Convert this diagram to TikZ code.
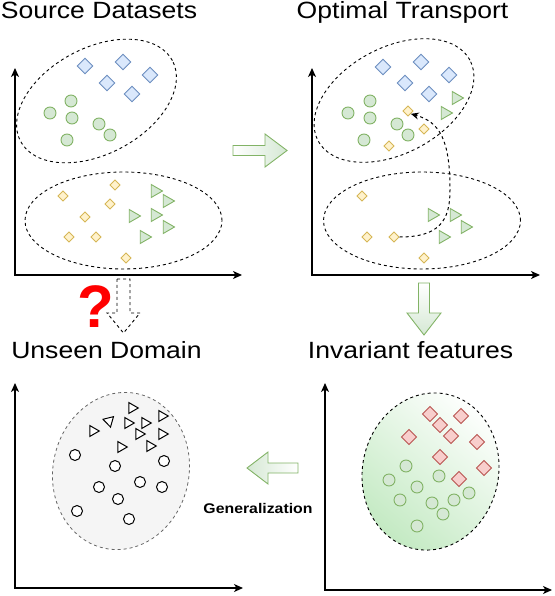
\documentclass[tikz,border=0pt]{standalone}
\usepackage{fontspec}
\setmainfont{Liberation Sans}
\newfontfamily\headfont[FakeStretch=1.13]{Liberation Sans}
\usepackage{xcolor}
\usepackage{tikz}
\usetikzlibrary{shapes.geometric, arrows.meta}

\definecolor{bluefill}{HTML}{DAE8FC}
\definecolor{bluedraw}{HTML}{6C8EBF}
\definecolor{greenfill}{HTML}{D5E8D4}
\definecolor{greendraw}{HTML}{82B366}
\definecolor{yellowfill}{HTML}{FFF2CC}
\definecolor{yellowdraw}{HTML}{D6B656}
\definecolor{redfill}{HTML}{F8CECC}
\definecolor{reddraw}{HTML}{B85450}
\definecolor{grayfill}{HTML}{F5F5F5}
\definecolor{graydraw}{HTML}{666666}

\begin{document}
\begin{tikzpicture}[x=1pt, y=-1pt,
  headline/.style={font=\headfont\fontsize{23.5pt}{28pt}\selectfont, inner sep=0pt, anchor=base},
  axisline/.style={line width=1.3pt, {Stealth[length=9pt,width=8pt,inset=2.5pt]}-{Stealth[length=9pt,width=8pt,inset=2.5pt]}},
  cluster/.style={ellipse, draw=black, dash pattern=on 3pt off 3pt, line width=0.9pt, inner sep=0pt},
  bluedia/.style={diamond, draw=bluedraw, fill=bluefill, line width=0.9pt, minimum width=16pt, minimum height=16pt, inner sep=0pt},
  reddia/.style={diamond, draw=reddraw, fill=redfill, line width=0.9pt, minimum width=15.5pt, minimum height=15.5pt, inner sep=0pt},
  yellowdia/.style={diamond, draw=yellowdraw, fill=yellowfill, line width=0.9pt, minimum width=10.5pt, minimum height=10.5pt, inner sep=0pt},
  greendot/.style={circle, draw=greendraw, fill=greenfill, line width=0.9pt, minimum size=12pt, inner sep=0pt},
  greentri/.style={regular polygon, regular polygon sides=3, shape border rotate=-90, draw=greendraw, fill=greenfill, line width=0.9pt, minimum size=15pt, inner sep=0pt},
  blankdot/.style={circle, draw=black, fill=white, line width=1pt, minimum size=11pt, inner sep=0pt},
  blanktri/.style={regular polygon, regular polygon sides=3, shape border rotate=-90, draw=black, fill=white, line width=1pt, minimum size=12.5pt, inner sep=0pt},
  blockarrow/.style={draw=greendraw, line width=0.9pt, line join=miter}
]
\useasboundingbox (0,0) rectangle (554,596);

\node[headline] (srcTitle) at (99,19) {Source Datasets};
\node[headline] (otTitle) at (402.5,19) {Optimal Transport};
\node[headline] (unTitle) at (106.5,358) {Unseen Domain};
\node[headline] (invTitle) at (410.5,358) {Invariant features};

\draw[axisline] (15,68) -- (15,275) -- (242,275);
\draw[axisline] (312,68) -- (312,275) -- (540,275);
\draw[axisline] (15,383) -- (15,588) -- (243,588);
\draw[axisline] (325,383) -- (325,590) -- (552,590);

\node[cluster, minimum width=172pt, minimum height=106pt, rotate=28] (srcA) at (96.5,101) {};
\node[cluster, minimum width=197pt, minimum height=97pt] (srcB) at (123.5,220.5) {};
\node[cluster, minimum width=172pt, minimum height=106pt, rotate=28] (otA) at (394,100.5) {};
\node[cluster, minimum width=197pt, minimum height=97pt] (otB) at (422,220.5) {};
\node[ellipse, draw=graydraw, fill=grayfill, dash pattern=on 3pt off 3pt, line width=0.8pt, inner sep=0pt, minimum width=136pt, minimum height=158pt, rotate=-12] (unDom) at (121,471) {};
\node[cluster, top color=white, bottom color=greenfill!92!green, shading angle=-40, minimum width=136pt, minimum height=158pt, rotate=-12] (invDom) at (430.5,471.5) {};

\node[bluedia] (sb1) at (85,66) {};
\node[bluedia] (sb2) at (123,62) {};
\node[bluedia] (sb3) at (150,75) {};
\node[bluedia] (sb4) at (107,83) {};
\node[bluedia] (sb5) at (132,94) {};
\node[greendot] (sc1) at (71,101) {};
\node[greendot] (sc2) at (50,113) {};
\node[greendot] (sc3) at (72,118) {};
\node[greendot] (sc4) at (99,124) {};
\node[greendot] (sc5) at (110,135) {};
\node[greendot] (sc6) at (67,140) {};
\node[yellowdia] (sy1) at (115,185) {};
\node[yellowdia] (sy2) at (63,196) {};
\node[yellowdia] (sy3) at (110,204) {};
\node[yellowdia] (sy4) at (85,217) {};
\node[yellowdia] (sy5) at (69,237) {};
\node[yellowdia] (sy6) at (96,237) {};
\node[yellowdia] (sy7) at (126,258) {};
\node[greentri] (st1) at (155,191) {};
\node[greentri] (st2) at (167,201) {};
\node[greentri] (st3) at (133,216) {};
\node[greentri] (st4) at (155,215) {};
\node[greentri] (st5) at (167,227) {};
\node[greentri] (st6) at (144,237) {};

\node[bluedia] (ob1) at (383,67) {};
\node[bluedia] (ob2) at (421,62) {};
\node[bluedia] (ob3) at (449,75) {};
\node[bluedia] (ob4) at (405,83) {};
\node[bluedia] (ob5) at (429,94) {};
\node[greendot] (oc1) at (370,101) {};
\node[greendot] (oc2) at (348,113) {};
\node[greendot] (oc3) at (370,118) {};
\node[greendot] (oc4) at (397,124) {};
\node[greendot] (oc5) at (408,135) {};
\node[greendot] (oc6) at (364,140) {};
\node[greentri] (ot1) at (456,98) {};
\node[greentri] (ot2) at (445,113) {};
\node[yellowdia] (oy1) at (408,111) {};
\node[yellowdia] (oy2) at (424,129) {};
\node[yellowdia] (oy3) at (389,146) {};
\node[yellowdia] (oy4) at (362,196) {};
\node[yellowdia] (oy5) at (367,237) {};
\node[yellowdia] (oy6) at (394,237) {};
\node[yellowdia] (oy7) at (424,258) {};
\node[greentri] (ot3) at (432,215) {};
\node[greentri] (ot4) at (454,215) {};
\node[greentri] (ot5) at (465,227) {};
\node[greentri] (ot6) at (443,237) {};

\draw[dash pattern=on 3pt off 3pt, line width=1pt, -{Stealth[length=8pt,width=7pt]}] (oy6.east) .. controls (440,237) and (450,220) .. (450,190) .. controls (450,140) and (440,122) .. (oy1.south east);

\node[blanktri] (ut1) at (132,408) {};
\node[blanktri, shape border rotate=194] (ut2) at (109,421) {};
\node[blanktri] (ut3) at (128,423) {};
\node[blanktri] (ut4) at (145,423) {};
\node[blanktri] (ut5) at (162,416) {};
\node[blanktri] (ut6) at (93,431) {};
\node[blanktri] (ut7) at (139,434) {};
\node[blanktri] (ut8) at (162,434) {};
\node[blanktri] (ut9) at (121,447) {};
\node[blanktri] (ut10) at (150,446) {};
\node[blankdot] (uc1) at (75,455) {};
\node[blankdot] (uc2) at (115,466) {};
\node[blankdot] (uc3) at (164,461) {};
\node[blankdot] (uc4) at (99,487) {};
\node[blankdot] (uc5) at (140,482) {};
\node[blankdot] (uc6) at (162,487) {};
\node[blankdot] (uc7) at (118,499) {};
\node[blankdot] (uc8) at (77,511) {};
\node[blankdot] (uc9) at (129,519) {};

\node[reddia] (ir1) at (430,414) {};
\node[reddia] (ir2) at (461,416) {};
\node[reddia] (ir3) at (440,425) {};
\node[reddia] (ir4) at (409,437) {};
\node[reddia] (ir5) at (451,436) {};
\node[reddia] (ir6) at (477,442) {};
\node[reddia] (ir7) at (440,457) {};
\node[reddia] (ir8) at (484,468) {};
\node[reddia] (ir9) at (459,479) {};
\node[greendot] (ic1) at (406,466) {};
\node[greendot] (ic2) at (439,476) {};
\node[greendot] (ic3) at (389,480) {};
\node[greendot] (ic4) at (417,487) {};
\node[greendot] (ic5) at (469,493) {};
\node[greendot] (ic6) at (400,500) {};
\node[greendot] (ic7) at (432,503) {};
\node[greendot] (ic8) at (454,500) {};
\node[greendot] (ic9) at (443,514) {};
\node[greendot] (ic10) at (417,526) {};

\draw[blockarrow, left color=white, right color=greenfill] (233,145.5) -- (265,145.5) -- (265,134) -- (287,150.5) -- (265,167) -- (265,155.5) -- (233,155.5) -- cycle;
\draw[blockarrow, top color=white, bottom color=greenfill] (418.5,283) -- (429.5,283) -- (429.5,313) -- (441,313) -- (424,335) -- (407,313) -- (418.5,313) -- cycle;
\draw[blockarrow, left color=greenfill, right color=white] (298,463) -- (298,473) -- (268,473) -- (268,484) -- (247,468) -- (268,452) -- (268,463) -- cycle;
\draw[fill=white, line width=0.9pt, dash pattern=on 3pt off 3pt, line join=miter] (117,279) -- (130,279) -- (130,313) -- (140,313) -- (123.5,333) -- (107,313) -- (117,313) -- cycle;

\node[font=\bfseries\fontsize{60pt}{70pt}\selectfont, text=red, inner sep=0pt, anchor=base] (qmark) at (95.5,327) {?};
\node[font=\headfont\bfseries\fontsize{14pt}{16pt}\selectfont, inner sep=0pt, anchor=base] (genLabel) at (258,513) {Generalization};
\end{tikzpicture}
\end{document}
